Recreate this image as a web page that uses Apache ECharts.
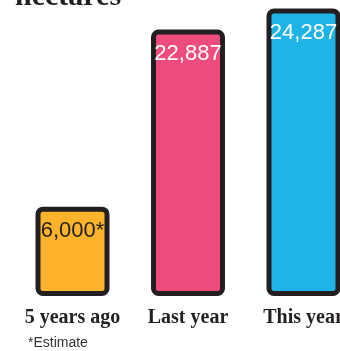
<!DOCTYPE html>
<html>
<head>
<meta charset="utf-8">
<script src="https://cdn.jsdelivr.net/npm/echarts@6/dist/echarts.min.js"></script>
<style>
  html, body { margin: 0; padding: 0; background: #ffffff; }
  #chart { width: 340px; height: 351px; }
</style>
</head>
<body>
<div id="chart"></div>
<script>
// Planted area, in hectares
const categories = ['5 years ago', 'Last year', 'This year'];
const values = [6000, 22887, 24287];
const footnoteMarks = ['*', '', ''];
const unitTitle = 'hectares';
const footnote = '*Estimate';

// Styling
const barFill = ['#FDB32B', '#EF4C7E', '#1FB4E8'];
const labelInk = ['#231F20', '#FFFFFF', '#FFFFFF'];
const ink = '#231F20';

const chart = echarts.init(document.getElementById('chart'), null, { renderer: 'canvas' });

chart.setOption({
  animation: false,
  title: {
    text: unitTitle,
    left: 15,
    top: -18,
    padding: 0,
    textStyle: {
      fontFamily: 'Liberation Serif',
      fontWeight: 'bold',
      fontSize: 30,
      color: ink
    }
  },
  // the plot runs past the right edge, so the last bar is cut off
  grid: {
    left: 14.75,
    width: 346.5,
    top: -2,
    bottom: 55,
    containLabel: false,
    outerBoundsMode: 'none'
  },
  xAxis: {
    type: 'category',
    data: categories,
    axisLine: { show: false },
    axisTick: { show: false },
    axisLabel: {
      interval: 0,
      margin: 12,
      color: ink,
      fontFamily: 'Liberation Serif',
      fontWeight: 'bold',
      fontSize: 20
    }
  },
  yAxis: {
    type: 'value',
    min: 0,
    max: 25000,
    show: false,
    splitLine: { show: false },
    // not to scale: the middle of the range is squeezed out
    breaks: [{ start: 8000, end: 12992, gap: 0 }],
    breakArea: { show: false }
  },
  series: [{
    type: 'bar',
    barWidth: 74,
    data: values.map((v, i) => ({
      value: v,
      itemStyle: { color: barFill[i] },
      label: { color: labelInk[i] }
    })),
    itemStyle: {
      borderColor: ink,
      borderWidth: 5,
      borderRadius: 5
    },
    label: {
      show: true,
      position: 'insideTop',
      distance: 13,
      fontFamily: 'Liberation Sans',
      fontSize: 22,
      lineHeight: 22,
      formatter: p => p.value.toLocaleString('en-US') + footnoteMarks[p.dataIndex]
    }
  }],
  graphic: [{
    type: 'text',
    left: 28,
    top: 336,
    style: {
      text: footnote,
      fontFamily: 'Liberation Sans',
      fontSize: 14,
      fill: '#333333'
    }
  }]
});
</script>
</body>
</html>
